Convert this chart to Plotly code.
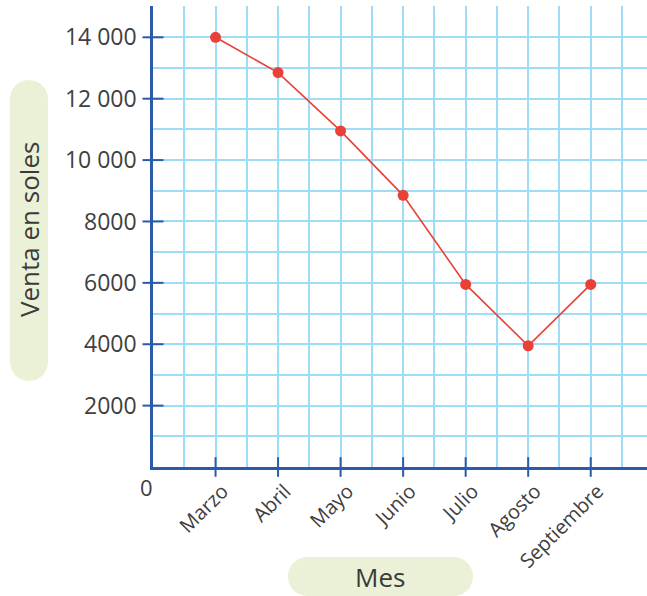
import plotly.graph_objects as go

# Datos
meses = ["Marzo", "Abril", "Mayo", "Junio", "Julio", "Agosto", "Septiembre"]
ventas = [14000, 12850, 10950, 8850, 5950, 3950, 5950]
y_ticks = [2000, 4000, 6000, 8000, 10000, 12000, 14000]
y_labels = ["2000", "4000", "6000", "8000", "10 000", "12 000", "14 000"]

W, H = 647, 596
L, R, T, B = 153, 0, 6, 129
PW, PH = W - L - R, H - T - B

grid = "#9fdcf6"
axis_blue = "#2b5aa8"
red = "#ea4036"
pill = "#eaf1d6"
text_grey = "#404040"

idx = list(range(len(meses)))


def px_x(px):
    return (px - L) / PW


def px_y(py):
    return (H - B - py) / PH


def pill_path(x0, y0, x1, y1):
    # rounded pill, screen pixels -> pixels relative to plot bottom-left
    bx, by = L, H - B
    r = min(x1 - x0, y1 - y0) / 2
    k = 0.5523 * r
    ax0, ax1 = x0 - bx, x1 - bx
    ay0, ay1 = by - y1, by - y0  # upward
    return (f"M{ax0 + r},{ay0} L{ax1 - r},{ay0} "
            f"C{ax1 - r + k},{ay0} {ax1},{ay0 + r - k} {ax1},{ay0 + r} "
            f"L{ax1},{ay1 - r} "
            f"C{ax1},{ay1 - r + k} {ax1 - r + k},{ay1} {ax1 - r},{ay1} "
            f"L{ax0 + r},{ay1} "
            f"C{ax0 + r - k},{ay1} {ax0},{ay1 - r + k} {ax0},{ay1 - r} "
            f"L{ax0},{ay0 + r} "
            f"C{ax0},{ay0 + r - k} {ax0 + r - k},{ay0} {ax0 + r},{ay0} Z")


fig = go.Figure()

# marcas de los ejes (cruzan la línea del eje)
fig.add_trace(go.Scatter(x=[-1] * len(y_ticks), y=y_ticks, mode="markers",
                         marker=dict(symbol="line-ew", size=15,
                                     line=dict(color=axis_blue, width=2)),
                         cliponaxis=False, hoverinfo="skip", showlegend=False))
fig.add_trace(go.Scatter(x=idx, y=[0] * len(idx), mode="markers",
                         marker=dict(symbol="line-ns", size=14,
                                     line=dict(color=axis_blue, width=2)),
                         cliponaxis=False, hoverinfo="skip", showlegend=False))

fig.add_trace(go.Scatter(x=idx, y=ventas, mode="lines+markers",
                         line=dict(color=red, width=1.6),
                         marker=dict(color=red, size=11),
                         cliponaxis=False, showlegend=False))

fig.update_xaxes(range=[-1, 6.9], tickmode="array", tickvals=idx, ticktext=meses,
                 tickangle=-45, ticks="", ticklabelstandoff=2, ticklabelshift=7,
                 showgrid=True, gridcolor=grid, gridwidth=1.8,
                 minor=dict(tickmode="linear", tick0=-1, dtick=0.5, showgrid=True,
                            gridcolor=grid, gridwidth=1.8),
                 showline=True, linecolor=axis_blue, linewidth=2.5, zeroline=False,
                 tickfont=dict(size=20, color=text_grey))
fig.update_yaxes(range=[0, 15020], tickmode="array", tickvals=y_ticks, ticktext=y_labels,
                 ticks="", ticklabelstandoff=9, showgrid=True, gridcolor=grid, gridwidth=1.8,
                 minor=dict(tickmode="linear", tick0=0, dtick=1000, showgrid=True,
                            gridcolor=grid, gridwidth=1.8),
                 showline=True, linecolor=axis_blue, linewidth=2.5, zeroline=False,
                 tickfont=dict(size=23, color=text_grey))

fig.update_layout(
    width=W, height=H, autosize=False,
    margin=dict(l=L, r=R, t=T, b=B, pad=0),
    plot_bgcolor="white", paper_bgcolor="white",
    font=dict(family="Open Sans", color=text_grey),
    shapes=[
        dict(type="path", xref="paper", yref="paper", xsizemode="pixel", ysizemode="pixel",
             xanchor=0, yanchor=0, path=pill_path(10, 80, 48, 381),
             fillcolor=pill, line=dict(width=0), layer="below"),
        dict(type="path", xref="paper", yref="paper", xsizemode="pixel", ysizemode="pixel",
             xanchor=0, yanchor=0, path=pill_path(288, 557, 473, 596),
             fillcolor=pill, line=dict(width=0), layer="below"),
    ],
    annotations=[
        dict(text="Venta en soles", textangle=-90, x=px_x(29), y=px_y(230),
             xref="paper", yref="paper", xanchor="center", yanchor="middle",
             showarrow=False, font=dict(size=26, color="#3a3a3a")),
        dict(text="Mes", x=px_x(380), y=px_y(577), xref="paper", yref="paper",
             xanchor="center", yanchor="middle",
             showarrow=False, font=dict(size=26, color="#3a3a3a")),
        dict(text="0", x=px_x(146), y=px_y(487), xref="paper", yref="paper",
             xanchor="center", yanchor="middle",
             showarrow=False, font=dict(size=22, color=text_grey)),
    ],
)

fig.write_html("out.html", config={"displayModeBar": False},
               post_script="document.body.style.margin='0';")
